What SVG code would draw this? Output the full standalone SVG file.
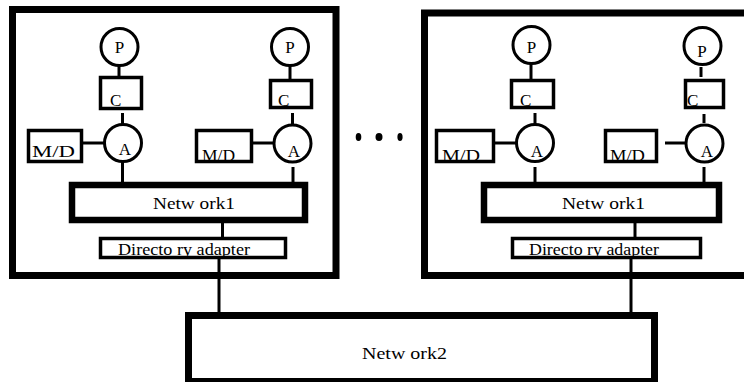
<svg xmlns="http://www.w3.org/2000/svg" width="744" height="382" viewBox="0 0 744 382">
<style>
.outer{fill:#fff;stroke:#000;stroke-width:7}
.net{fill:#fff;stroke:#000;stroke-width:6.5}
.box{fill:#fff;stroke:#000;stroke-width:3.5}
.circ{fill:#fff;stroke:#000;stroke-width:3}
.ln{stroke:#000;stroke-width:3;fill:none}
text{font-family:"Liberation Serif","Times New Roman",serif;font-size:17px;fill:#000}
</style>
<rect width="744" height="382" fill="#fff"/>
<g id="domain1"><rect class="outer" x="12.5" y="9.5" width="323.5" height="266"/></g>
<g id="domain2"><rect class="outer" x="424.5" y="13" width="330" height="262.5"/></g>
<g id="connectors">
<line class="ln" x1="119" y1="65" x2="119" y2="77"/>
<line class="ln" x1="122.5" y1="113" x2="122.5" y2="124"/>
<line class="ln" x1="83" y1="143" x2="104" y2="143"/>
<line class="ln" x1="122.5" y1="162" x2="122.5" y2="183"/>
<line class="ln" x1="290" y1="65" x2="290" y2="79"/>
<line class="ln" x1="292.5" y1="113" x2="292.5" y2="124"/>
<line class="ln" x1="253" y1="143" x2="274" y2="143"/>
<line class="ln" x1="293" y1="167" x2="293" y2="183"/>
<line class="ln" x1="222.5" y1="223" x2="222.5" y2="237"/>
<line class="ln" x1="219" y1="259" x2="219" y2="313"/>
<line class="ln" x1="531" y1="64" x2="531" y2="79"/>
<line class="ln" x1="535" y1="113" x2="535" y2="124"/>
<line class="ln" x1="495" y1="143" x2="516" y2="143"/>
<line class="ln" x1="535" y1="167" x2="535" y2="183"/>
<line class="ln" x1="701" y1="67" x2="701" y2="77"/>
<line class="ln" x1="704" y1="114" x2="704" y2="123"/>
<line class="ln" x1="665" y1="143" x2="686" y2="143"/>
<line class="ln" x1="704" y1="167" x2="704" y2="183"/>
<line class="ln" x1="635" y1="223" x2="635" y2="237"/>
<line class="ln" x1="631" y1="259" x2="631" y2="313"/>
</g>
<g id="p1"><circle class="circ" cx="119.5" cy="47" r="18.5"/><text x="119.5" y="53" text-anchor="middle">P</text></g>
<g id="c1"><rect class="box" x="100.5" y="77.5" width="41" height="31"/><text x="110" y="106">C</text></g>
<g id="a1"><circle class="circ" cx="123" cy="143" r="18.5"/><text x="125" y="155" text-anchor="middle">A</text></g>
<g id="md1"><rect class="box" x="28.5" y="130.5" width="53" height="31"/><text x="32" y="157" textLength="43" lengthAdjust="spacingAndGlyphs">M/D</text></g>
<g id="p2"><circle class="circ" cx="290" cy="47" r="18.5"/><text x="290" y="53" text-anchor="middle">P</text></g>
<g id="c2"><rect class="box" x="270.5" y="80.5" width="41" height="27"/><text x="278" y="106">C</text></g>
<g id="a2"><circle class="circ" cx="292.5" cy="143.5" r="18.5"/><text x="294" y="157" text-anchor="middle">A</text></g>
<g id="md2"><rect class="box" x="196.5" y="130.5" width="55" height="31"/><text x="202" y="161" textLength="33" lengthAdjust="spacingAndGlyphs">M/D</text></g>
<g id="net1a"><rect class="net" x="72" y="185" width="233" height="35"/><text x="194" y="209" text-anchor="middle" textLength="82" lengthAdjust="spacingAndGlyphs">Netw ork1</text></g>
<g id="da1"><rect class="box" x="100.5" y="238.5" width="185" height="19"/><text x="118" y="255" textLength="132" lengthAdjust="spacingAndGlyphs">Directo ry adapter</text></g>
<g id="p3"><circle class="circ" cx="531.5" cy="45" r="18.5"/><text x="531.5" y="53" text-anchor="middle">P</text></g>
<g id="c3"><rect class="box" x="511.5" y="80.5" width="42" height="27"/><text x="520" y="106">C</text></g>
<g id="a3"><circle class="circ" cx="535" cy="143" r="18.5"/><text x="537" y="157" text-anchor="middle">A</text></g>
<g id="md3"><rect class="box" x="436.5" y="130.5" width="57" height="31"/><text x="442" y="161" textLength="38" lengthAdjust="spacingAndGlyphs">M/D</text></g>
<g id="p4"><circle class="circ" cx="702.5" cy="46" r="18.5"/><text x="702" y="57" text-anchor="middle">P</text></g>
<g id="c4"><rect class="box" x="685.5" y="80.5" width="38" height="27"/><text x="687" y="106">C</text></g>
<g id="a4"><circle class="circ" cx="704.5" cy="143.5" r="18.5"/><text x="707" y="157" text-anchor="middle">A</text></g>
<g id="md4"><rect class="box" x="605.5" y="130.5" width="51" height="31"/><text x="610" y="161" textLength="35" lengthAdjust="spacingAndGlyphs">M/D</text></g>
<g id="net1b"><rect class="net" x="484" y="185" width="235" height="35"/><text x="603.5" y="209" text-anchor="middle" textLength="83" lengthAdjust="spacingAndGlyphs">Netw ork1</text></g>
<g id="da2"><rect class="box" x="512.5" y="238.5" width="188" height="19"/><text x="529" y="255" textLength="130" lengthAdjust="spacingAndGlyphs">Directo ry adapter</text></g>
<g id="net2"><rect class="outer" x="188.5" y="315.5" width="466" height="66"/><text x="404.5" y="359" text-anchor="middle" textLength="85" lengthAdjust="spacingAndGlyphs">Netw ork2</text></g>
<g id="ellipsis"><ellipse cx="358.5" cy="137" rx="2.8" ry="4"/><ellipse cx="379" cy="137" rx="3.5" ry="4"/><ellipse cx="400" cy="137" rx="2.6" ry="4"/></g>
</svg>
